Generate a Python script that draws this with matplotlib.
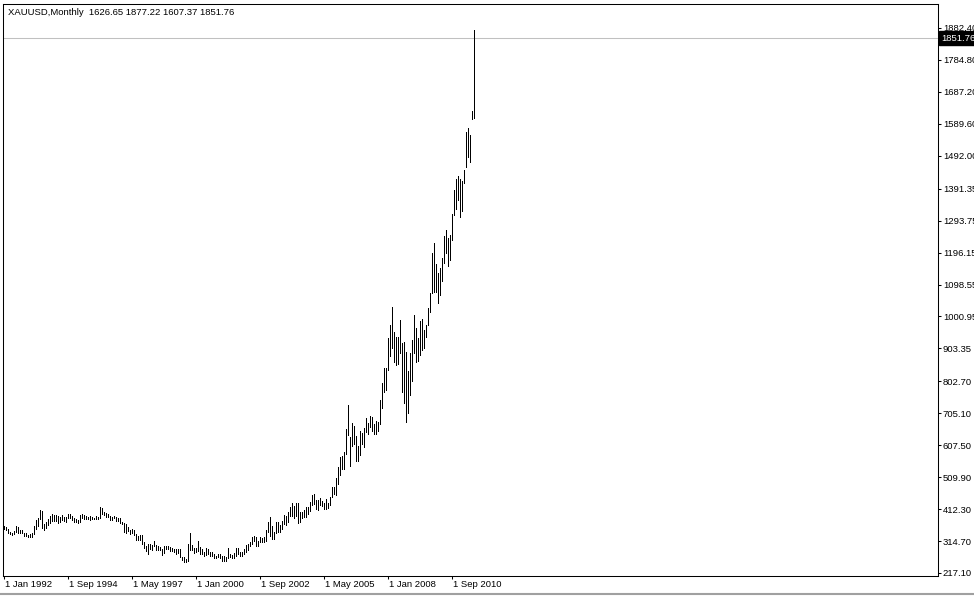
import matplotlib
matplotlib.use("Agg")
import matplotlib.pyplot as plt
import matplotlib.transforms as mtransforms
from matplotlib.lines import Line2D
import pandas as pd

# ---------------- data ----------------
symbol = "XAUUSD,Monthly"
last_open, last_high, last_low, last_close = 1626.65, 1877.22, 1607.37, 1851.76
start_month = "1992-01-01"

# monthly highs, Jan 1992 .. Aug 2011
high = [
    360, 358, 352, 343, 340, 346, 362, 358, 350, 349, 340, 338,          # 1992
    334, 335, 340, 362, 380, 385, 410, 406, 368, 373, 381, 392,          # 1993
    397, 395, 393, 392, 389, 394, 389, 387, 398, 397, 391, 385,          # 1994
    383, 380, 394, 396, 393, 391, 389, 390, 388, 386, 390, 389,          # 1995
    418, 416, 403, 399, 396, 392, 389, 392, 389, 385, 385, 374,          # 1996
    369, 366, 358, 349, 351, 348, 336, 330, 334, 334, 313, 299,          # 1997
    305, 306, 303, 315, 303, 300, 297, 290, 300, 300, 300, 298,          # 1998
    293, 291, 290, 291, 290, 266, 265, 261, 305, 339, 303, 292,          # 1999
    292, 316, 296, 289, 280, 295, 291, 281, 280, 276, 270, 274,          # 2000
    274, 268, 270, 266, 293, 275, 272, 279, 295, 293, 281, 281,          # 2001
    290, 303, 305, 312, 328, 331, 327, 316, 327, 324, 326, 350,          # 2002
    372, 389, 361, 342, 374, 373, 365, 377, 394, 390, 404, 420,          # 2003
    432, 422, 432, 430, 404, 405, 410, 418, 420, 435, 455, 458,          # 2004
    440, 440, 447, 438, 431, 443, 432, 450, 479, 479, 506, 540,          # 2005
    572, 575, 588, 656, 730, 632, 675, 665, 637, 606, 651, 645,          # 2006
    659, 690, 675, 697, 693, 673, 683, 677, 745, 799, 843, 843,          # 2007
    936, 975, 1031, 952, 939, 939, 990, 920, 924, 893, 833, 888,         # 2008
    929, 1005, 965, 935, 986, 993, 960, 975, 1026, 1072, 1194, 1226,     # 2009
    1162, 1133, 1148, 1179, 1248, 1264, 1240, 1250, 1315, 1386, 1422, 1430,  # 2010
    1420, 1415, 1447, 1566, 1576, 1555, 1630, 1877.22,                   # 2011
]

# monthly lows, Jan 1992 .. Aug 2011
low = [
    351, 350, 340, 336, 334, 337, 342, 339, 340, 338, 330, 331,          # 1992
    326, 326, 326, 336, 353, 360, 382, 355, 350, 354, 365, 370,          # 1993
    377, 375, 375, 370, 372, 379, 377, 374, 385, 385, 380, 374,          # 1994
    372, 371, 374, 386, 381, 382, 381, 380, 381, 381, 381, 383,          # 1995
    386, 398, 394, 389, 387, 380, 380, 384, 377, 376, 369, 366,          # 1996
    341, 338, 345, 336, 338, 334, 318, 318, 319, 307, 294, 283,          # 1997
    276, 289, 288, 299, 288, 288, 286, 273, 278, 289, 290, 285,          # 1998
    283, 281, 276, 278, 265, 256, 252, 252, 253, 288, 287, 278,          # 1999
    280, 283, 275, 274, 270, 271, 275, 270, 270, 263, 263, 266,          # 2000
    262, 255, 255, 255, 262, 266, 263, 263, 270, 276, 270, 270,          # 2001
    276, 281, 287, 300, 306, 314, 301, 301, 312, 311, 313, 316,          # 2002
    342, 330, 320, 320, 338, 342, 342, 352, 368, 365, 374, 390,          # 2003
    391, 384, 391, 371, 374, 384, 387, 388, 396, 408, 425, 428,          # 2004
    414, 411, 424, 423, 414, 414, 417, 424, 450, 459, 455, 489,          # 2005
    517, 534, 536, 581, 640, 543, 605, 612, 560, 560, 578, 611,          # 2006
    602, 648, 641, 662, 651, 641, 643, 650, 672, 720, 771, 776,          # 2007
    837, 880, 904, 861, 853, 856, 888, 771, 736, 679, 705, 760,          # 2008
    805, 888, 863, 865, 884, 899, 905, 938, 975, 1016, 1072, 1075,       # 2009
    1075, 1043, 1067, 1110, 1163, 1194, 1155, 1175, 1236, 1310, 1330, 1358,  # 2010
    1304, 1323, 1408, 1458, 1487, 1474, 1604, 1607.37,                   # 2011
]

price_ticks = [217.10, 314.70, 412.30, 509.90, 607.50, 705.10, 802.70, 903.35,
               1000.95, 1098.55, 1196.15, 1293.75, 1391.35, 1492.00, 1589.60,
               1687.20, 1784.80, 1882.40]
date_tick_step = 32   # months between date labels

# ---------------- figure ----------------
W, H = 974, 596
fig = plt.figure(figsize=(W / 100, H / 100), dpi=100, facecolor="white")
ax_left, ax_right, ax_top, ax_bottom = 3, 938, 4, 576
ax = fig.add_axes([ax_left / W, (H - ax_bottom) / H,
                   (ax_right - ax_left) / W, (ax_bottom - ax_top) / H])
ax.set_facecolor("white")

dates = pd.date_range(start_month, periods=len(high), freq="MS")
idx = list(range(len(high)))

FONT = "Liberation Sans"
FS = 6.8

# last price line
ax.axhline(last_close, color="#c0c0c0", lw=0.75, zorder=1)

# bars
ax.vlines(idx, low, high, colors="black", lw=0.55, antialiased=False, zorder=3)

# scales
ax.set_xlim(-0.5, 467)
ax.set_ylim(207.93, 1955.7)

for s in ax.spines.values():
    s.set_color("black")
    s.set_linewidth(0.75)

# y axis on right
ax.yaxis.tick_right()
ax.set_yticks(price_ticks)
ax.set_yticklabels([f"{v:.2f}" for v in price_ticks], fontsize=FS, family=FONT)
ax.tick_params(axis="y", direction="out", length=2.5, width=0.75, pad=1.0,
               colors="black")

# x axis date ticks
tick_idx = idx[::date_tick_step]
ax.set_xticks(tick_idx)
ax.set_xticklabels([f"{dates[i].day} {dates[i].strftime('%b')} {dates[i].year}"
                    for i in tick_idx], fontsize=FS, family=FONT)
ax.tick_params(axis="x", direction="out", length=2.5, width=0.75, pad=0.3,
               colors="black")
off = mtransforms.ScaledTranslation(1.0 / 100, 0, fig.dpi_scale_trans)
for lbl in ax.get_xticklabels():
    lbl.set_ha("left")
    lbl.set_transform(lbl.get_transform() + off)

# last price box
trans = mtransforms.blended_transform_factory(ax.transAxes, ax.transData)
ax.text(1.0, last_close, f"{last_close:.2f}",
        transform=trans + mtransforms.ScaledTranslation(3.5 / 100, 0, fig.dpi_scale_trans),
        ha="left", va="center", color="white", fontsize=FS, family=FONT,
        bbox=dict(boxstyle="square,pad=0.25", fc="black", ec="black"),
        clip_on=False, zorder=5)

# title
fig.text(8 / W, 1 - 12.5 / H,
         f"{symbol}  {last_open:.2f} {last_high:.2f} {last_low:.2f} {last_close:.2f}",
         ha="left", va="center", fontsize=FS, family=FONT, color="black")

# window bottom border
fig.add_artist(Line2D([0, 1], [2.5 / H, 2.5 / H], transform=fig.transFigure,
                      color="#a0a0a0", lw=1.5))

fig.savefig("out.png", dpi=100, facecolor="white")
